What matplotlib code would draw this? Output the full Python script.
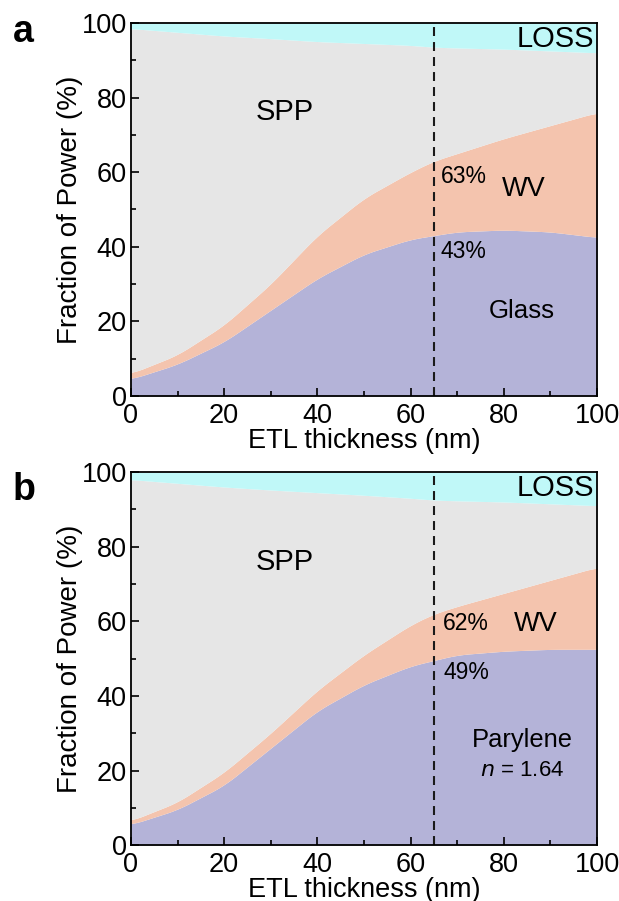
import numpy as np
import matplotlib.pyplot as plt
from matplotlib.ticker import MultipleLocator

plt.rcParams['font.family'] = ['Liberation Sans', 'DejaVu Sans']

# ETL thickness (nm)
x = [0, 10, 20, 30, 40, 50, 60, 65, 70, 80, 90, 100]

# Panel a (glass substrate): cumulative tops of each band (%)
glass_a = [4.5, 8.5, 14.5, 23, 31.5, 38, 42, 43, 44, 44.5, 44, 42.5]
wv_top_a = [6, 11, 19, 30, 43, 53, 60, 63, 65, 69, 72.5, 76]
spp_top_a = [98.5, 97.5, 96.5, 95.8, 95, 94.5, 94, 93.5, 93.3, 93, 92.5, 92]

# Panel b (parylene substrate)
glass_b = [5.5, 9.5, 16, 26, 36, 43, 48, 49.5, 51, 52, 52.5, 52.5]
wv_top_b = [6.5, 11.5, 19.5, 30, 41.5, 51, 59, 62, 64, 67.5, 71, 74.5]
spp_top_b = [98, 97, 96, 95.2, 94.5, 93.8, 93, 92.5, 92.3, 92, 91.5, 91]

c_sub = '#B4B3D8'
c_wv = '#F4C4AE'
c_spp = '#E6E6E6'
c_loss = '#C0F8F8'

fig = plt.figure(figsize=(6.19, 9.01), dpi=100)
ax_a = fig.add_axes([0.2115, 0.5605, 0.7530, 0.4140])
ax_b = fig.add_axes([0.2115, 0.0620, 0.7530, 0.4140])


def sm(v):
    # light smoothing of the piecewise-linear readout
    k = np.ones(11) / 11
    p = np.pad(v, 5, mode='edge')
    return np.convolve(p, k, mode='valid')


def draw(ax, sub, wv, spp, letter, letter_y):
    xs = np.linspace(0, 100, 201)
    sub_s = sm(np.interp(xs, x, sub))
    wv_s = sm(np.interp(xs, x, wv))
    spp_s = sm(np.interp(xs, x, spp))
    ax.fill_between(xs, 0, sub_s, color=c_sub, lw=0)
    ax.fill_between(xs, sub_s, wv_s, color=c_wv, lw=0)
    ax.fill_between(xs, wv_s, spp_s, color=c_spp, lw=0)
    ax.fill_between(xs, spp_s, 100, color=c_loss, lw=0)
    ax.plot([65, 65], [0, 99], color='#1a1a1a', ls=(0, (4.3, 2.9)), lw=1.5)
    ax.set_xlim(0, 100)
    ax.set_ylim(0, 100)
    ax.xaxis.set_major_locator(MultipleLocator(20))
    ax.xaxis.set_minor_locator(MultipleLocator(10))
    ax.yaxis.set_major_locator(MultipleLocator(20))
    ax.yaxis.set_minor_locator(MultipleLocator(10))
    ax.tick_params(which='both', direction='in', labelsize=19.5, width=1.2, pad=3)
    ax.tick_params(axis='x', which='major', pad=5)
    ax.tick_params(which='major', length=5.5)
    ax.tick_params(which='minor', length=3.5)
    for s in ax.spines.values():
        s.set_linewidth(1.3)
    ax.set_xlabel('ETL thickness (nm)', fontsize=19.5, labelpad=-1)
    ax.set_ylabel('Fraction of Power (%)', fontsize=20, labelpad=-1)
    ax.text(-0.253, letter_y, letter, transform=ax.transAxes, fontsize=27,
            fontweight='bold', va='baseline', ha='left')
    ax.text(99.3, 95.8, 'LOSS', fontsize=21, ha='right', va='center')
    ax.text(33, 76, 'SPP', fontsize=21, ha='center', va='center')
    return ax


draw(ax_a, glass_a, wv_top_a, spp_top_a, 'a', 0.949)
ax_a.text(66.5, 58.9, '63%', fontsize=16.5, va='center')
ax_a.text(66.5, 38.8, '43%', fontsize=16.5, va='center')
ax_a.text(84.3, 55.4, 'WV', fontsize=19.5, ha='center', va='center')
ax_a.text(83.9, 22.8, 'Glass', fontsize=18.6, ha='center', va='center')

draw(ax_b, glass_b, wv_top_b, spp_top_b, 'b', 0.925)
ax_b.text(67, 59.4, '62%', fontsize=16.5, va='center')
ax_b.text(67, 46.4, '49%', fontsize=16.5, va='center')
ax_b.text(86.9, 59.4, 'WV', fontsize=19.5, ha='center', va='center')
ax_b.text(83.9, 28.1, 'Parylene', fontsize=18.4, ha='center', va='center')
ax_b.text(83.9, 20.1, r'$\mathit{n}$ = 1.64', fontsize=16, ha='center', va='center')

fig.savefig('out.png', dpi=100)
